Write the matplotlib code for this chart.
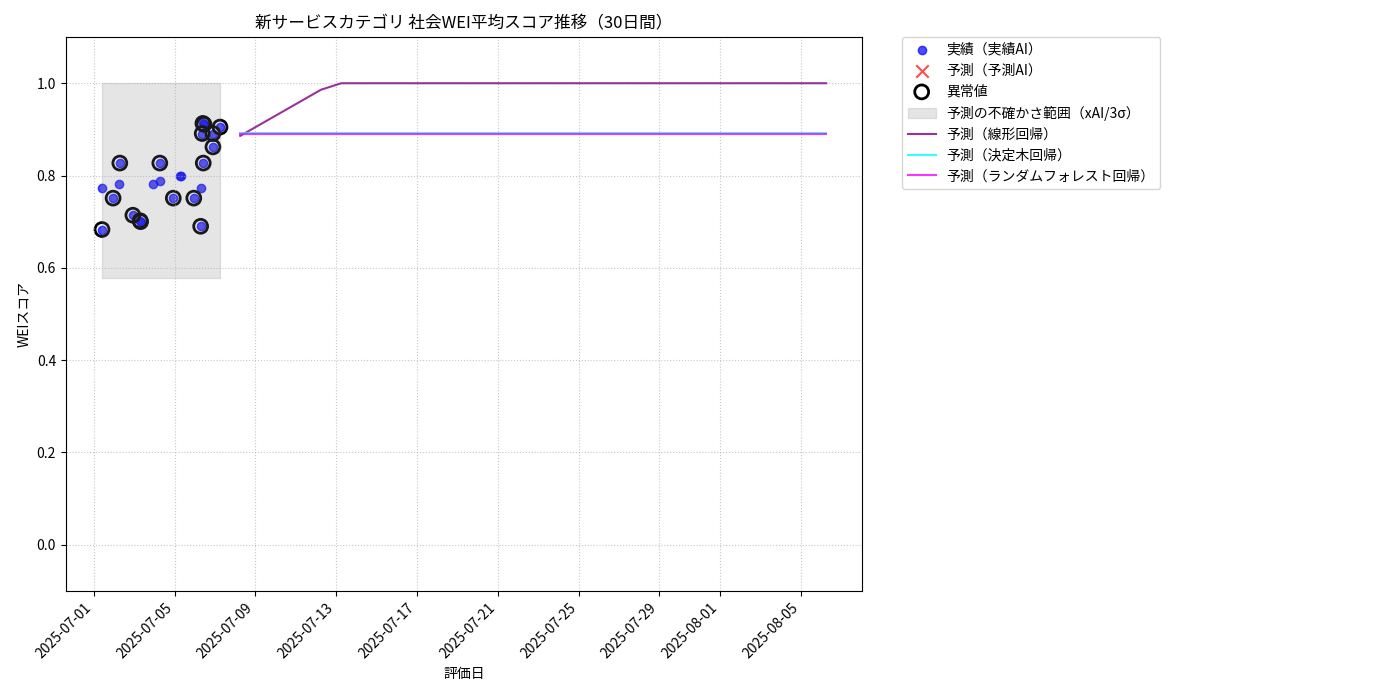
import matplotlib
matplotlib.use("Agg")
import matplotlib.pyplot as plt
import matplotlib.dates as mdates
import pandas as pd
import numpy as np

plt.rcParams['font.family'] = ['Noto Sans CJK JP', 'DejaVu Sans']

# 実績データ
actual_dates = [
    "2025-07-01 09:50", "2025-07-01 10:20", "2025-07-01 23:00", "2025-07-02 06:30",
    "2025-07-02 07:00", "2025-07-02 22:30", "2025-07-03 07:10", "2025-07-03 07:40",
    "2025-07-03 22:50", "2025-07-04 06:30", "2025-07-04 07:10", "2025-07-04 22:30",
    "2025-07-05 07:00", "2025-07-05 07:05", "2025-07-05 22:50", "2025-07-06 07:00",
    "2025-07-06 07:00", "2025-07-06 08:50", "2025-07-06 09:40", "2025-07-06 10:05",
    "2025-07-06 11:00", "2025-07-06 21:35", "2025-07-06 21:35", "2025-07-07 06:00",
]
actual_values = [
    0.683, 0.774, 0.751, 0.781,
    0.827, 0.714, 0.702, 0.700,
    0.781, 0.827, 0.789, 0.751,
    0.800, 0.800, 0.751, 0.774,
    0.690, 0.891, 0.913, 0.827,
    0.911, 0.891, 0.862, 0.905,
]
anomaly_flags = [
    1, 0, 1, 0,
    1, 1, 1, 1,
    0, 1, 0, 1,
    0, 0, 1, 0,
    1, 1, 1, 1,
    1, 1, 1, 1,
]

# 予測データ（30日間）
forecast_start = "2025-07-08 06:00"
linear_pred = [0.886, 0.911, 0.936, 0.961, 0.986] + [1.0] * 25
tree_pred = [0.892] * 30
forest_pred = [0.889] * 30
band_upper = 1.0
band_lower = 0.577

dates = pd.to_datetime(actual_dates)
vals = np.array(actual_values)
anom = np.array(anomaly_flags, dtype=bool)
fdates = pd.date_range(forecast_start, periods=len(linear_pred), freq="D")

fig = plt.figure(figsize=(14, 7), dpi=100)
ax = fig.add_axes([0.047, 0.156, 0.569, 0.791])

ax.scatter(dates, vals, color='blue', alpha=0.7, s=36, label='実績（実績AI）')
ax.scatter([], [], color='red', marker='x', alpha=0.7, s=80, label='予測（予測AI）')
ax.scatter(dates[anom], vals[anom], facecolors='none', edgecolors='black', s=100,
           linewidths=2, label='異常値')
ax.fill_between([dates.min(), dates.max()], band_lower, band_upper, color='gray',
                alpha=0.2, label='予測の不確かさ範囲（xAI/3σ）')
ax.plot(fdates, linear_pred, color='purple', alpha=0.8, label='予測（線形回帰）')
ax.plot(fdates, tree_pred, color='cyan', alpha=0.8, label='予測（決定木回帰）')
ax.plot(fdates, forest_pred, color='magenta', alpha=0.8, label='予測（ランダムフォレスト回帰）')

ax.set_ylim(-0.1, 1.1)
ax.set_title('新サービスカテゴリ 社会WEI平均スコア推移（30日間）', fontsize=12)
ax.set_xlabel('評価日')
ax.set_ylabel('WEIスコア')
ax.grid(True, linestyle=':', alpha=0.7)
ax.xaxis.set_major_formatter(mdates.DateFormatter('%Y-%m-%d'))
plt.setp(ax.get_xticklabels(), rotation=45, ha='right')
ax.legend(bbox_to_anchor=(1.05, 1), loc='upper left', borderaxespad=0.)

fig.savefig('out.png')
